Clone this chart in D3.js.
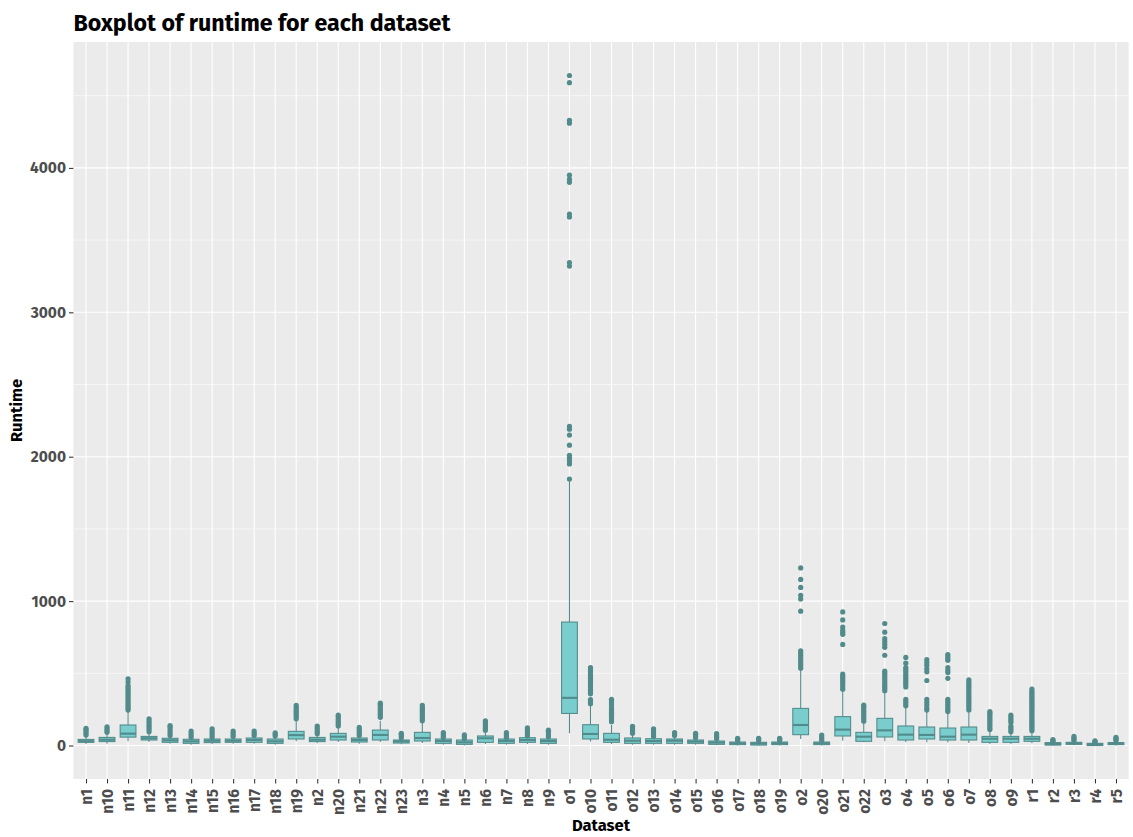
<!DOCTYPE html>
<html>
<head>
<meta charset="utf-8">
<script src="https://cdn.jsdelivr.net/npm/d3@7"></script>
<style>
  html, body { margin: 0; padding: 0; background: #ffffff; }
  svg { display: block; }
  text { font-family: "Fira Sans", Lato, "Open Sans", sans-serif; }
</style>
</head>
<body>
<svg id="chart" width="1133" height="837"></svg>
<script>
// Datasets on the x axis, in display order
const categories = [
  "n1","n10","n11","n12","n13","n14","n15","n16","n17","n18","n19","n2","n20","n21","n22","n23",
  "n3","n4","n5","n6","n7","n8","n9",
  "o1","o10","o11","o12","o13","o14","o15","o16","o17","o18","o19","o2","o20","o21","o22",
  "o3","o4","o5","o6","o7","o8","o9",
  "r1","r2","r3","r4","r5"
];

// Five-number summaries of runtime per dataset
const lowerWhisker = [10,12,30,25,12,5,10,12,12,5,30,15,25,12,25,8, 18,5,0,10,5,10,5,
  85,27,10,5,5,5,5,2,0,0,0,45,0,33,22, 29,22,22,20,18,10,10, 15,0,2,0,0];
const q1 = [22,27,58,38,22,15,20,22,22,15,45,27,38,24,38,17, 31,15,8,22,15,22,15,
  222,45,22,15,15,15,15,8,6,3,6,75,6,66,29, 59,38,45,38,38,22,22, 29,3,8,0,6];
const median = [30,40,82,50,36,29,33,33,38,29,72,40,61,38,73,29, 52,31,22,50,31,38,31,
  330,80,40,33,31,33,27,20,15,13,15,142,15,110,61, 105,75,73,61,75,47,47, 47,10,15,8,13];
const q3 = [42,56,142,63,50,43,45,45,52,45,98,56,84,52,107,38, 91,45,38,66,45,54,45,
  855,144,84,52,47,45,38,31,24,22,24,257,24,200,91, 188,135,128,121,128,63,63, 63,20,22,15,20];
const upperWhisker = [65,85,232,88,62,52,52,55,62,58,168,75,122,65,172,48, 160,48,42,96,48,60,52,
  1830,275,142,70,55,60,48,40,30,30,30,525,30,380,160, 365,260,235,225,230,100,85, 95,24,28,18,28];

// Points beyond the whiskers, per dataset
const outliers = [
  [72,85,98,110,118],
  [92,105,118,130],
  [245,258,271,284,297,310,323,336,349,362,375,388,401,414,440,462],
  [95,110,125,140,155,170,185],
  [70,85,100,115,130,137],
  [58,72,86,100],
  [58,72,86,100,115],
  [62,75,88,100],
  [70,85,100],
  [65,78,88],
  [185,198,211,224,237,250,263,278],
  [82,95,108,122,135],
  [135,148,161,174,187,200,210],
  [70,84,98,112,125],
  [195,208,221,234,247,260,273,285,293],
  [54,66,78,85],
  [172,185,198,211,224,237,250,263,278],
  [55,68,80,90],
  [47,60,73],
  [105,118,131,144,157,170],
  [55,68,80,90],
  [66,80,94,108,122],
  [60,73,86,98,106],
  [1845,1950,1970,1990,2010,2080,2150,2190,2210,3320,3345,3660,3680,3900,3920,3950,4310,4330,4590,4640],
  [290,305,318,358,372,388,405,420,435,450,465,480,495,510,525,540],
  [165,178,191,204,217,230,243,256,269,282,295,308,320],
  [84,97,110,122,133],
  [62,75,88,102,115],
  [70,82,90],
  [54,66,78,84],
  [46,58,70,82],
  [35,45,50],
  [35,45,50],
  [35,45,50],
  [535,550,565,580,595,610,625,640,655,930,1015,1040,1095,1150,1230],
  [36,48,60,72],
  [390,405,420,435,450,465,480,495,700,770,785,800,820,870,925],
  [168,181,194,207,220,233,246,259,272,280],
  [380,395,410,425,440,455,470,485,500,515,625,680,700,720,740,785,845],
  [275,290,305,320,405,420,435,450,465,480,495,510,525,540,570,610],
  [245,260,280,300,320,450,510,530,555,575,595],
  [235,245,260,275,290,305,320,465,505,520,540,590,600,615,630],
  [245,260,275,290,305,320,335,350,365,380,395,410,425,440,455],
  [110,123,136,149,162,175,188,201,214,226,234],
  [95,108,121,134,160,173,186,199,211],
  [103,115,127,139,151,163,175,187,199,211,223,235,247,259,271,283,295,307,319,331,343,355,367,379,391],
  [28,35,40],
  [33,42,52,63],
  [22,28,33],
  [33,42,50,56]
];

const yTicks = [0, 1000, 2000, 3000, 4000];
const yMinorTicks = [500, 1500, 2500, 3500, 4500];

const chartTitle = "Boxplot of runtime for each dataset";
const xTitle = "Dataset";
const yTitle = "Runtime";

// ---- layout ----
const W = 1133, H = 837;
const panel = { left: 73.4, right: 1128.6, top: 42, bottom: 779 };

const fillColor = "#79CDCD";
const lineColor = "#528B8B";

const svg = d3.select("#chart");

const rows = categories.map((c, i) => ({
  name: c, lo: lowerWhisker[i], q1: q1[i], med: median[i], q3: q3[i], hi: upperWhisker[i], out: outliers[i]
}));

// ggplot-style expansion: 0.6 units on discrete x, 5% on continuous y
const n = categories.length;
const x = d3.scaleLinear()
  .domain([1 - 0.6, n + 0.6])
  .range([panel.left, panel.right]);
const xPos = name => x(categories.indexOf(name) + 1);

const allVals = rows.flatMap(r => [r.lo, r.hi, ...r.out]);
const yMin = d3.min(allVals), yMax = d3.max(allVals);
const pad = (yMax - yMin) * 0.05;
const y = d3.scaleLinear()
  .domain([yMin - pad, yMax + pad])
  .range([panel.bottom, panel.top]);

// panel background
svg.append("rect")
  .attr("x", panel.left).attr("y", panel.top)
  .attr("width", panel.right - panel.left).attr("height", panel.bottom - panel.top)
  .attr("fill", "#EBEBEB");

// grid lines
const grid = svg.append("g");
grid.selectAll("line.minor").data(yMinorTicks).join("line")
  .attr("x1", panel.left).attr("x2", panel.right)
  .attr("y1", d => y(d)).attr("y2", d => y(d))
  .attr("stroke", "#ffffff").attr("stroke-width", 0.55);
grid.selectAll("line.major").data(yTicks).join("line")
  .attr("x1", panel.left).attr("x2", panel.right)
  .attr("y1", d => y(d)).attr("y2", d => y(d))
  .attr("stroke", "#ffffff").attr("stroke-width", 1.1);
grid.selectAll("line.vmajor").data(categories).join("line")
  .attr("x1", d => xPos(d)).attr("x2", d => xPos(d))
  .attr("y1", panel.top).attr("y2", panel.bottom)
  .attr("stroke", "#ffffff").attr("stroke-width", 1.1);

// boxes
const boxW = 0.75 * (x(2) - x(1));
const boxes = svg.append("g").selectAll("g").data(rows).join("g");

// whiskers
boxes.append("line")
  .attr("x1", d => xPos(d.name)).attr("x2", d => xPos(d.name))
  .attr("y1", d => y(d.q3)).attr("y2", d => y(d.hi))
  .attr("stroke", lineColor).attr("stroke-width", 1.07);
boxes.append("line")
  .attr("x1", d => xPos(d.name)).attr("x2", d => xPos(d.name))
  .attr("y1", d => y(d.q1)).attr("y2", d => y(d.lo))
  .attr("stroke", lineColor).attr("stroke-width", 1.07);

// box bodies
boxes.append("rect")
  .attr("x", d => xPos(d.name) - boxW / 2)
  .attr("width", boxW)
  .attr("y", d => y(d.q3))
  .attr("height", d => Math.max(0.5, y(d.q1) - y(d.q3)))
  .attr("fill", fillColor)
  .attr("stroke", lineColor).attr("stroke-width", 1.07);

// medians
boxes.append("line")
  .attr("x1", d => xPos(d.name) - boxW / 2).attr("x2", d => xPos(d.name) + boxW / 2)
  .attr("y1", d => y(d.med)).attr("y2", d => y(d.med))
  .attr("stroke", lineColor).attr("stroke-width", 2.1);

// outlier points
boxes.selectAll("circle").data(d => d.out.map(v => ({ name: d.name, v }))).join("circle")
  .attr("cx", d => xPos(d.name))
  .attr("cy", d => y(d.v))
  .attr("r", 2.6)
  .attr("fill", lineColor);

// y axis
const yAxis = d3.axisLeft(y).tickValues(yTicks).tickSize(4.4).tickPadding(3).tickFormat(d3.format("d"));
const gy = svg.append("g").attr("transform", `translate(${panel.left},0)`).call(yAxis);
gy.select(".domain").remove();
gy.selectAll(".tick line").attr("stroke", "#333333").attr("stroke-width", 1.07);
gy.selectAll(".tick text")
  .attr("fill", "#4D4D4D").attr("font-size", 15.5).attr("font-weight", "bold")
  .style("font-family", "\"Fira Sans\", Lato, sans-serif");

// x axis
const xAxis = d3.axisBottom(x).tickValues(d3.range(1, n + 1)).tickSize(4.4).tickPadding(3)
  .tickFormat(i => categories[i - 1]);
const gx = svg.append("g").attr("transform", `translate(0,${panel.bottom})`).call(xAxis);
gx.select(".domain").remove();
gx.selectAll(".tick line").attr("stroke", "#333333").attr("stroke-width", 1.07);
gx.selectAll(".tick text")
  .attr("fill", "#4D4D4D").attr("font-size", 15.5).attr("font-weight", "bold")
  .style("font-family", "\"Fira Sans\", Lato, sans-serif")
  .attr("text-anchor", "end")
  .attr("dy", "0.35em")
  .attr("transform", "translate(0,10) rotate(-90)")
  .attr("x", 0).attr("y", 0);

// titles
svg.append("text")
  .attr("x", panel.left).attr("y", 31)
  .attr("font-size", 23.2).attr("font-weight", "bold").attr("fill", "#000000")
  .text(chartTitle);

svg.append("text")
  .attr("x", (panel.left + panel.right) / 2).attr("y", 831)
  .attr("text-anchor", "middle")
  .attr("font-size", 16.5).attr("font-weight", "bold").attr("fill", "#000000")
  .text(xTitle);

svg.append("text")
  .attr("transform", `translate(22,${(panel.top + panel.bottom) / 2}) rotate(-90)`)
  .attr("text-anchor", "middle")
  .attr("font-size", 16.5).attr("font-weight", "bold").attr("fill", "#000000")
  .text(yTitle);
</script>
</body>
</html>
